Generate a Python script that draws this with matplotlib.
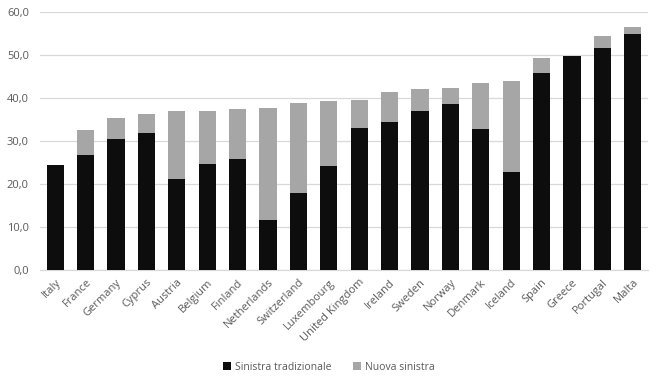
import matplotlib
matplotlib.use("Agg")
import matplotlib.pyplot as plt
import numpy as np

countries = ["Italy", "France", "Germany", "Cyprus", "Austria", "Belgium", "Finland",
             "Netherlands", "Switzerland", "Luxembourg", "United Kingdom", "Ireland",
             "Sweden", "Norway", "Denmark", "Iceland", "Spain", "Greece", "Portugal", "Malta"]
tradizionale = [24.4, 26.7, 30.5, 31.9, 21.2, 24.7, 25.8, 11.6, 17.9, 24.2,
                33.0, 34.4, 37.0, 38.6, 32.8, 22.8, 45.8, 49.8, 51.6, 54.9]
totale = [24.4, 32.6, 35.3, 36.3, 37.0, 37.0, 37.4, 37.7, 38.8, 39.3,
          39.5, 41.4, 42.1, 42.3, 43.5, 44.0, 49.3, 49.8, 54.4, 56.5]
nuova = [round(t - s, 1) for t, s in zip(totale, tradizionale)]
yticks = [0, 10, 20, 30, 40, 50, 60]

plt.rcParams['font.family'] = ['Open Sans', 'DejaVu Sans']

fig = plt.figure(figsize=(6.58, 3.85), dpi=100)
ax = fig.add_axes([40/658, 1 - 270/385, 608/658, 258/385])

x = np.arange(len(countries))
ax.bar(x, tradizionale, width=0.56, color="#0d0d0d", label="Sinistra tradizionale", zorder=3)
ax.bar(x, nuova, width=0.56, bottom=tradizionale, color="#a6a6a6", label="Nuova sinistra", zorder=3)

ax.set_xlim(-0.5, len(countries) - 0.5)
ax.set_ylim(0, 60)
ax.set_yticks(yticks)
ax.set_yticklabels([f"{v:.1f}".replace(".", ",") for v in yticks], fontsize=8, color="#595959")
ax.set_xticks(x)
ax.set_xticklabels(countries, rotation=45, ha="right", rotation_mode="anchor",
                   fontsize=8, color="#595959")
ax.tick_params(axis="both", length=0)
ax.tick_params(axis="y", pad=8)
ax.tick_params(axis="x", pad=5)
ax.grid(axis="y", color="#d9d9d9", linewidth=0.9, zorder=0)
for s in ["top", "right", "left"]:
    ax.spines[s].set_visible(False)
ax.spines["bottom"].set_color("#d9d9d9")
ax.spines["bottom"].set_linewidth(0.9)

fig.legend(loc="center", bbox_to_anchor=(0.5, 1 - 367/385), ncol=2, frameon=False,
           fontsize=7.5, handlelength=0.8, handleheight=0.8, columnspacing=2.0,
           handletextpad=0.4, labelcolor="#595959")

fig.savefig("out.png", dpi=100)
